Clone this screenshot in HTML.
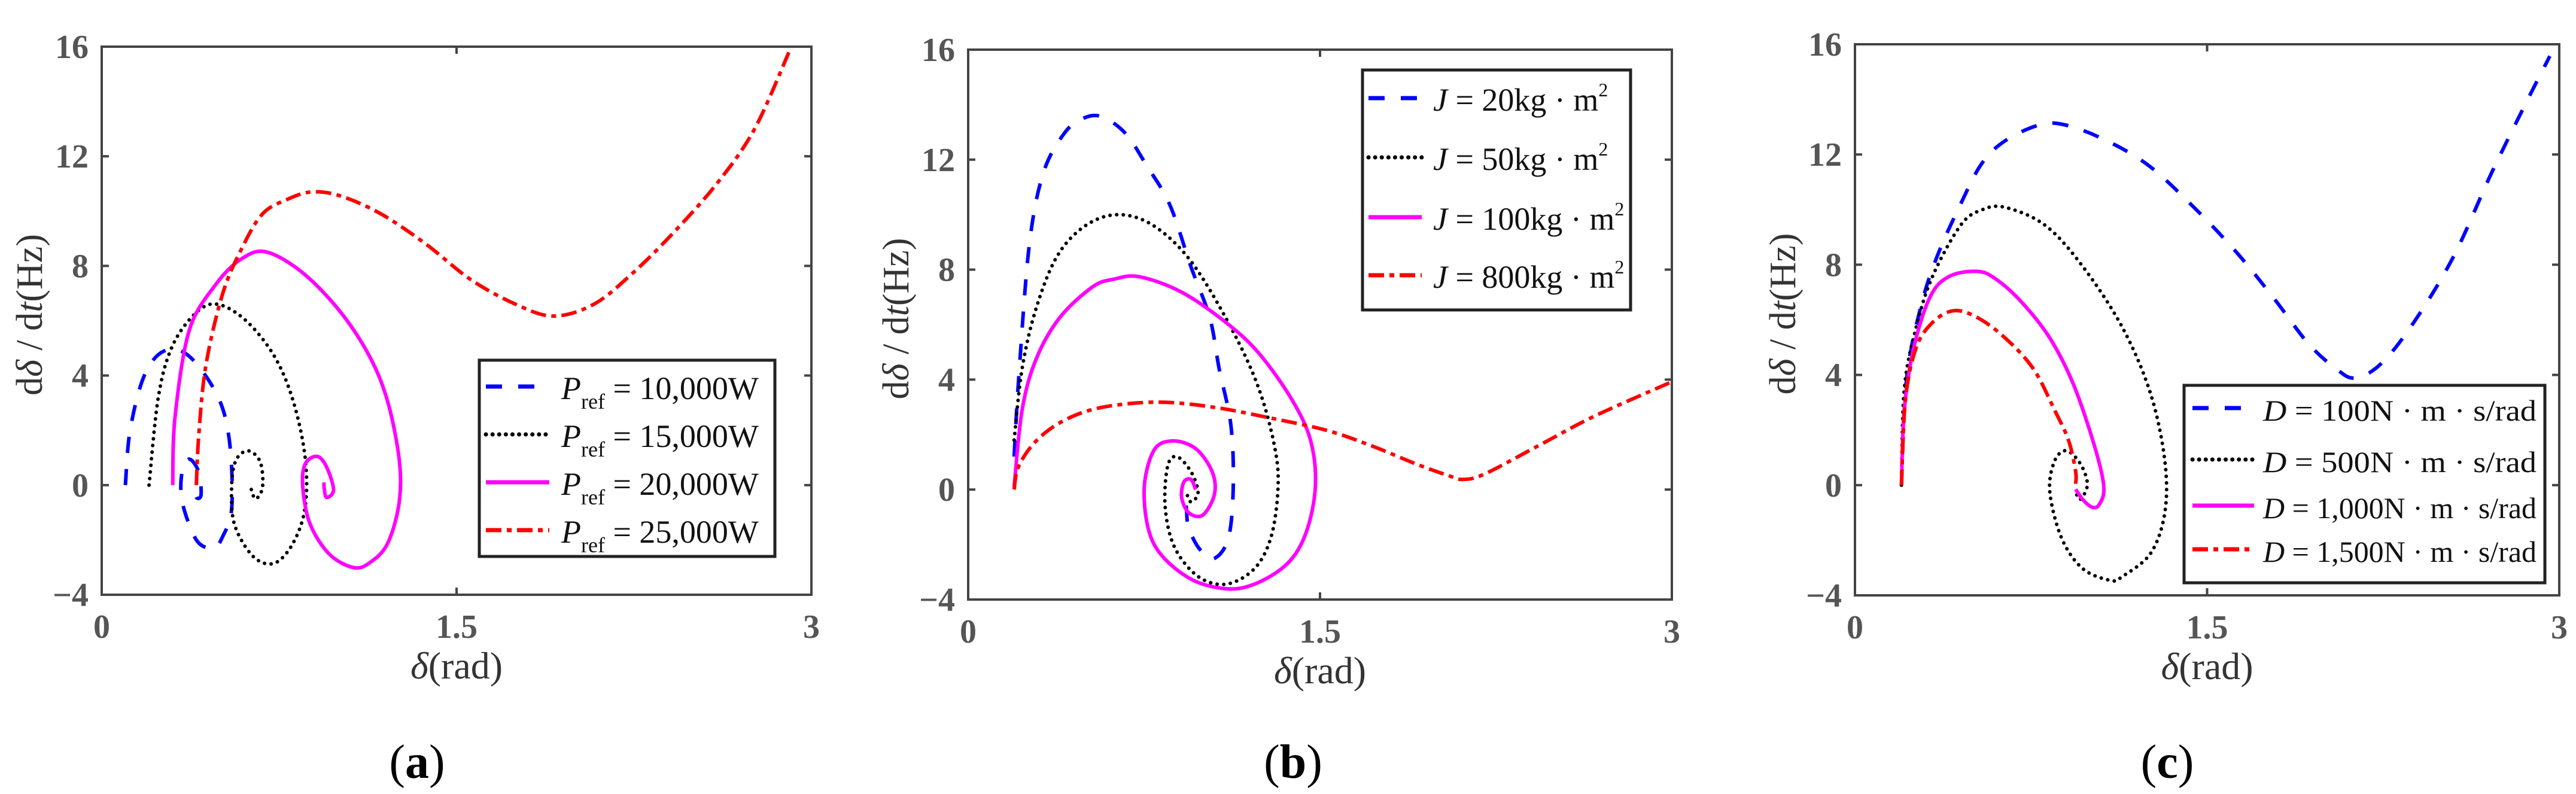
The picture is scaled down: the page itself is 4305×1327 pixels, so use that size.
<!DOCTYPE html>
<html><head><meta charset="utf-8"><style>
html,body{margin:0;padding:0;background:#fff;}
svg{display:block;}
text{font-family:"Liberation Serif",serif;}
</style></head><body>
<svg id="fig" width="4305" height="1327" viewBox="0 0 4305 1327" xmlns="http://www.w3.org/2000/svg"></svg>
<script>
// ---- Data (delta in rad, d(delta)/dt in Hz) ----
const xTicks = [0, 1.5, 3];
const xTickLabels = ["0", "1.5", "3"];
const yTicks = [-4, 0, 4, 8, 12, 16];
const yTickLabels = ["\u22124", "0", "4", "8", "12", "16"];

// Panel (a)
const aBlueX = [0.10,0.12,0.18,0.265,0.37,0.49,0.54,0.55,0.51,0.47,0.40,0.34,0.34,0.37,0.41,0.42,0.40,0.39];
const aBlueY = [0,2.0,4.0,4.9,4.7,3.25,1.6,-0.8,-1.9,-2.3,-2.0,-0.6,0.5,0.95,0.48,-0.35,-0.45,0];
const aBlackX = [0.20,0.24,0.30,0.40,0.49,0.61,0.73,0.81,0.86,0.86,0.81,0.73,0.64,0.56,0.55,0.57,0.62,0.67,0.68,0.65,0.63,0.64];
const aBlackY = [0,3.25,5.1,6.3,6.6,6.0,4.7,3.05,1.0,-0.8,-2.1,-2.85,-2.6,-1.4,0.1,0.95,1.25,0.85,-0.07,-0.5,-0.07,0];
const aMagX = [0.30,0.31,0.37,0.48,0.59,0.70,0.87,1.05,1.18,1.25,1.26,1.21,1.13,1.06,0.96,0.88,0.85,0.86,0.91,0.95,0.98,0.95,0.94,0.94];
const aMagY = [0,2.5,5.65,7.3,8.25,8.5,7.6,5.85,3.8,1.4,-0.45,-2.1,-2.85,-3.0,-2.5,-1.4,-0.07,0.77,1.05,0.67,-0.17,-0.45,-0.07,0.1];
const aRedX = [0.40,0.41,0.44,0.51,0.59,0.68,0.79,0.89,1.01,1.18,1.37,1.56,1.75,1.91,2.08,2.24,2.41,2.60,2.76,2.91];
const aRedY = [0,1.8,4.35,6.95,8.6,9.9,10.45,10.7,10.55,9.9,8.8,7.5,6.6,6.17,6.6,7.7,9.15,11.0,13.0,15.9];

// Panel (b)
const bBlueX = [0.196,0.215,0.26,0.32,0.41,0.49,0.57,0.67,0.76,0.86,0.95,1.03,1.07,1.12,1.13,1.11,1.05,0.99,0.94,0.93,0.92];
const bBlueY = [1.2,4.0,8.85,11.5,12.96,13.5,13.56,12.96,11.8,10.35,8.1,6.25,4.4,2.35,0.1,-1.75,-2.5,-2.2,-1.4,-0.65,-0.1];
const bBlackX = [0.196,0.23,0.29,0.38,0.50,0.64,0.79,0.95,1.12,1.24,1.31,1.32,1.29,1.22,1.10,0.98,0.88,0.84,0.85,0.89,0.95,0.98,0.95,0.93];
const bBlackY = [1.8,4.4,6.6,8.5,9.6,10.0,9.6,8.3,5.9,3.65,1.4,-0.1,-1.76,-2.88,-3.44,-3.16,-2.1,-0.65,0.84,1.2,0.65,-0.1,-0.45,-0.1];
const bMagX = [0.196,0.23,0.29,0.39,0.53,0.62,0.73,0.91,1.10,1.24,1.38,1.46,1.48,1.44,1.36,1.22,1.09,0.93,0.79,0.75,0.79,0.87,0.97,1.04,1.05,1.00,0.94,0.91,0.92,0.95,0.97];
const bMagY = [0.1,2.9,4.75,6.25,7.37,7.65,7.74,7.18,6.07,4.95,3.27,1.78,0.1,-1.58,-2.7,-3.44,-3.6,-3.16,-1.95,-0.1,1.4,1.77,1.49,0.65,-0.17,-0.93,-0.84,-0.28,0.28,0.37,0];
const bRedX = [0.196,0.215,0.29,0.41,0.57,0.81,1.05,1.29,1.53,1.72,1.91,2.05,2.11,2.20,2.43,2.67,3.0];
const bRedY = [0,0.84,1.77,2.52,2.99,3.18,2.99,2.6,2.15,1.59,0.93,0.5,0.37,0.56,1.59,2.67,3.92];

// Panel (c)
const cBlueX = [0.198,0.22,0.28,0.35,0.45,0.54,0.64,0.78,0.88,1.04,1.24,1.43,1.62,1.78,1.93,2.05,2.13,2.24,2.38,2.55,2.71,2.86,2.96];
const cBlueY = [0,3.85,6.46,8.3,10.2,11.67,12.5,13.06,13.1,12.63,11.67,10.2,8.5,6.83,5.15,4.22,3.89,4.4,5.9,8.3,11.3,13.9,15.57];
const cBlackX = [0.198,0.21,0.26,0.33,0.45,0.54,0.64,0.81,0.97,1.14,1.26,1.32,1.32,1.26,1.14,1.09,0.97,0.88,0.83,0.85,0.90,0.96,0.99,0.96,0.94];
const cBlackY = [0,3.48,5.7,7.57,9.43,9.99,10.08,9.43,7.94,5.71,3.3,0.87,-0.99,-2.47,-3.31,-3.46,-3.03,-1.92,-0.24,0.87,1.25,0.78,0.03,-0.52,-0.24];
const cMagX = [0.198,0.21,0.25,0.32,0.40,0.52,0.60,0.71,0.83,0.93,1.02,1.06,1.04,1.01,0.97,0.94];
const cMagY = [0,2.73,4.97,6.83,7.57,7.76,7.48,6.64,5.34,3.67,1.43,-0.06,-0.71,-0.8,-0.52,-0.15];
const cRedX = [0.198,0.215,0.26,0.33,0.42,0.52,0.64,0.76,0.85,0.91,0.94,0.94];
const cRedY = [0,3.1,4.97,5.9,6.33,6.09,5.34,4.22,2.73,1.62,0.5,0.05];

const legendA = ["10,000W","15,000W","20,000W","25,000W"];
const legendB = ["20kg","50kg","100kg","800kg"];
const legendC = ["100N","500N","1,000N","1,500N"];

const STYLES = {
  blue:{stroke:"#0000ff",dash:"27 27",cap:"butt",w:6},
  black:{stroke:"#000",dash:"0.1 11",cap:"round",w:6},
  mag:{stroke:"#ff00ff",dash:"",cap:"butt",w:6},
  red:{stroke:"#ff0000",dash:"26 9 8 9",cap:"butt",w:6}
};

const NS="http://www.w3.org/2000/svg";
const svg=document.getElementById('fig');
function el(tag,attrs,parent){const e=document.createElementNS(NS,tag);for(const k in attrs)e.setAttribute(k,attrs[k]);(parent||svg).appendChild(e);return e;}

function smoothPath(pts){
  let d="M"+pts[0][0].toFixed(1)+","+pts[0][1].toFixed(1);
  for(let i=0;i<pts.length-1;i++){
    const p0=pts[Math.max(0,i-1)],p1=pts[i],p2=pts[i+1],p3=pts[Math.min(pts.length-1,i+2)];
    const c1=[p1[0]+(p2[0]-p0[0])/6,p1[1]+(p2[1]-p0[1])/6];
    const c2=[p2[0]-(p3[0]-p1[0])/6,p2[1]-(p3[1]-p1[1])/6];
    d+=" C"+c1[0].toFixed(1)+","+c1[1].toFixed(1)+" "+c2[0].toFixed(1)+","+c2[1].toFixed(1)+" "+p2[0].toFixed(1)+","+p2[1].toFixed(1);
  }
  return d;
}

const panels=[
 {id:"a",L:170,R:1356,T:78,B:994,cap:697,
  series:[["blue",aBlueX,aBlueY],["black",aBlackX,aBlackY],["mag",aMagX,aMagY],["red",aRedX,aRedY]],
  leg:{x:801,y:602,w:494,h:328,rows:[653,733,813,893],lx1:812,lx2:918,tx:938,fs:54,kind:"P",labels:legendA}},
 {id:"b",L:1618,R:2794,T:83,B:1002,cap:2161,
  series:[["blue",bBlueX,bBlueY],["black",bBlackX,bBlackY],["mag",bMagX,bMagY],["red",bRedX,bRedY]],
  leg:{x:2277,y:117,w:448,h:401,rows:[171,270,370,467],lx1:2287,lx2:2376,tx:2395,fs:54,kind:"J",labels:legendB}},
 {id:"c",L:3100,R:4277,T:74,B:995,cap:3622,
  series:[["blue",cBlueX,cBlueY],["black",cBlackX,cBlackY],["mag",cMagX,cMagY],["red",cRedX,cRedY]],
  leg:{x:3650,y:644,w:603,h:330,rows:[689,775,852,925],lx1:3664,lx2:3767,tx:3782,fs:50,kind:"D",labels:legendC}}
];

panels.forEach(p=>{
  const g=el('g',{});
  
  
  const sx=v=>p.L+(v-0)/(3-0)*(p.R-p.L);
  const sy=v=>p.B-(v+4)/20*(p.B-p.T);
  const fr=el('rect',{x:p.L,y:p.T,width:p.R-p.L,height:p.B-p.T,fill:"none",stroke:"#444","stroke-width":4},g);
  
  
  yTicks.forEach((t,i)=>{
    const y=sy(t);
    el('line',{x1:p.L,x2:p.L+12,y1:y,y2:y,stroke:"#444","stroke-width":4},g);
    el('line',{x1:p.R,x2:p.R-12,y1:y,y2:y,stroke:"#444","stroke-width":4},g);
    const tl=el('text',{x:p.L-22,y:y+19,"text-anchor":"end","font-size":56,"font-weight":"bold",fill:"#555"},g);
    tl.textContent=yTickLabels[i];
    
    
  });
  xTicks.forEach((t,i)=>{
    const x=sx(t);
    el('line',{x1:x,x2:x,y1:p.B,y2:p.B-12,stroke:"#444","stroke-width":4},g);
    el('line',{x1:x,x2:x,y1:p.T,y2:p.T+12,stroke:"#444","stroke-width":4},g);
    const tl=el('text',{x:x,y:p.B+72,"text-anchor":"middle","font-size":56,"font-weight":"bold",fill:"#555"},g);
    tl.textContent=xTickLabels[i];
    
    
  });
  const xt=el('text',{x:(p.L+p.R)/2,y:p.B+140,"text-anchor":"middle","font-size":64,fill:"#333"},g);
  xt.innerHTML='<tspan font-style="italic">δ</tspan>(rad)';
  
  
  const yx=p.L-100, yc=(p.T+p.B)/2-10;
  const yt=el('text',{x:yx,y:yc,"text-anchor":"middle","font-size":62,fill:"#333",transform:`rotate(-90 ${yx} ${yc})`},g);
  yt.innerHTML='d<tspan font-style="italic">δ</tspan> / d<tspan font-style="italic">t</tspan>(Hz)';
  
  
  p.series.forEach(([k,xs,ys])=>{
    const st=STYLES[k];
    const pts=xs.map((v,i)=>[sx(v),sy(ys[i])]);
    const path=el('path',{d:smoothPath(pts),fill:"none",stroke:st.stroke,"stroke-width":st.w,"stroke-dasharray":st.dash,"stroke-linecap":st.cap,"stroke-linejoin":"round"},g);
    
    
  });
  const L=p.leg;
  const lg=el('g',{},g);
  
  
  el('rect',{x:L.x,y:L.y,width:L.w,height:L.h,fill:"#fff",stroke:"#222","stroke-width":5},lg);
  ["blue","black","mag","red"].forEach((k,i)=>{
    const st=STYLES[k];const y=L.rows[i];
    el('line',{x1:L.lx1,x2:L.lx2,y1:y-7,y2:y-7,stroke:st.stroke,"stroke-width":7,"stroke-dasharray":st.dash,"stroke-linecap":st.cap},lg);
    const attrs={x:L.tx,y:y+14,"font-size":L.fs,fill:"#111"};
    if(L.kind==="D"){attrs.textLength=(L.x+L.w-14-L.tx);attrs.lengthAdjust="spacingAndGlyphs";}
    const t=el('text',attrs,lg);
    if(L.kind==="P") t.innerHTML='<tspan font-style="italic">P</tspan><tspan font-size="36" dy="16">ref</tspan><tspan dy="-16"> = '+L.labels[i]+'</tspan>';
    else if(L.kind==="J") t.innerHTML='<tspan font-style="italic">J</tspan> = '+L.labels[i]+' · m<tspan font-size="32" dy="-24">2</tspan>';
    else t.innerHTML='<tspan font-style="italic">D</tspan> = '+L.labels[i]+' · m · s/rad';
    
    
  });
  const c=el('text',{x:p.cap,y:1300,"text-anchor":"middle","font-size":80,fill:"#000"},g);
  c.innerHTML='(<tspan font-weight="bold">'+p.id+'</tspan>)';
  
  
});
</script>
</body></html>
